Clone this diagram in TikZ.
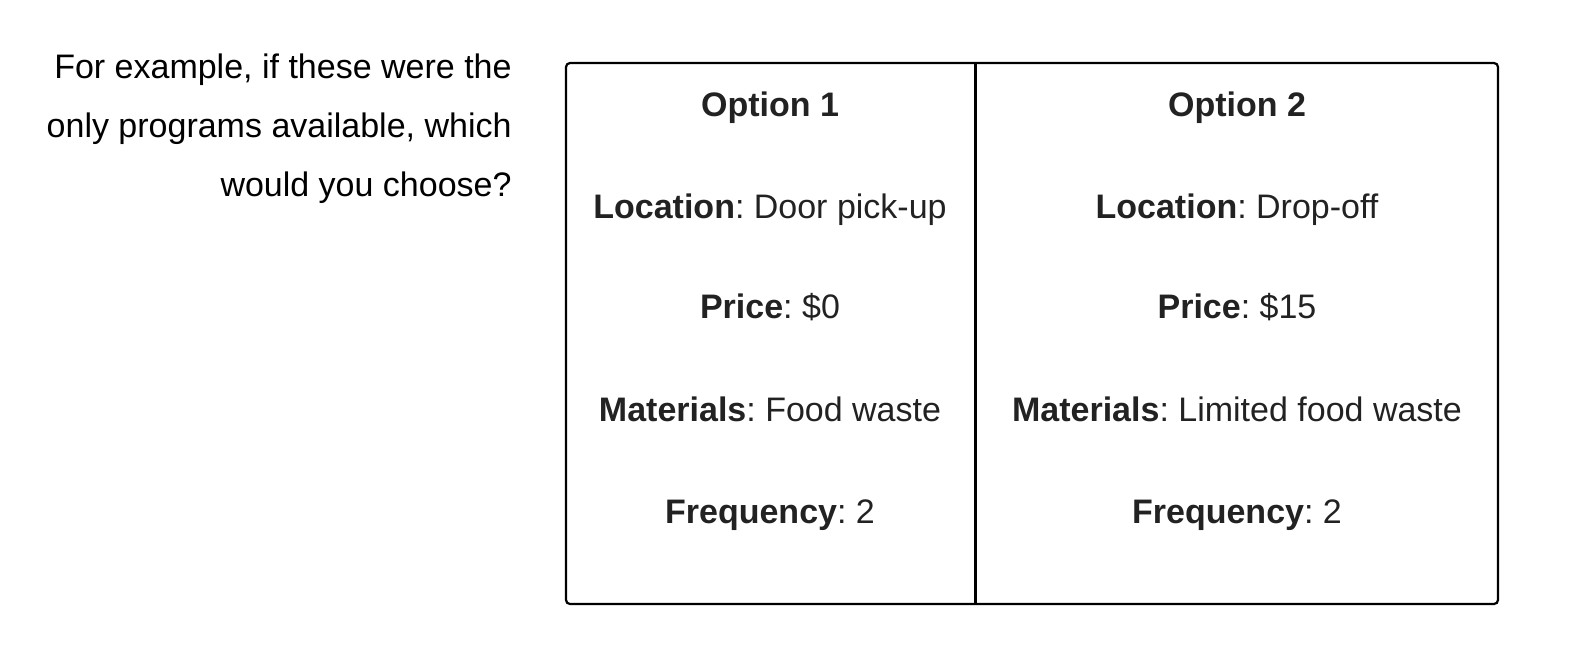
\documentclass[tikz,border=0pt]{standalone}
\usepackage{fontspec}
\setmainfont{Liberation Sans}
\usepackage{tikz}
\frenchspacing
\definecolor{celltext}{HTML}{222222}
\tikzstyle{cell} = [anchor=base,inner sep=0pt,text=celltext,font=\fontsize{17}{20}\selectfont]
\tikzstyle{frame} = [line width=1.1pt,rounded corners=2pt]
\newcommand{\field}[2]{\textbf{#1}: #2}

\begin{document}
\begin{tikzpicture}[x=0.5pt,y=-0.5pt]
          \useasboundingbox (0,0) rectangle (1580,655);
          \node[anchor=north east,inner sep=0pt,align=right,font=\fontsize{17}{29.5}\selectfont] at (512,53) (question)
            {For example, if these were the\\only programs available, which\\would you choose?};

          \coordinate (tl) at (566,63);
          \coordinate (br) at (1498,604);
          \coordinate (divtop) at (975,63);
          \coordinate (divbot) at (975,604);
          \draw[frame] (tl) rectangle (br);
          \draw[line width=1.5pt] (divtop) -- (divbot);

          % option 1
          \node[cell] at (770,116) (head1) {\textbf{Option 1}};
          \node[cell] at (770,218) (loc1) {\field{Location}{Door pick-up}};
          \node[cell] at (770,318) (price1) {\field{Price}{\$0}};
          \node[cell] at (770,421) (mat1) {\field{Materials}{Food waste}};
          \node[cell] at (770,523) (freq1) {\field{Frequency}{2}};

          % option 2
          \node[cell] at (1237,116) (head2) {\textbf{Option 2}};
          \node[cell] at (1237,218) (loc2) {\field{Location}{Drop-off}};
          \node[cell] at (1237,318) (price2) {\field{Price}{\$15}};
          \node[cell] at (1237,421) (mat2) {\field{Materials}{Limited food waste}};
          \node[cell] at (1237,523) (freq2) {\field{Frequency}{2}};
        \end{tikzpicture}
\end{document}
